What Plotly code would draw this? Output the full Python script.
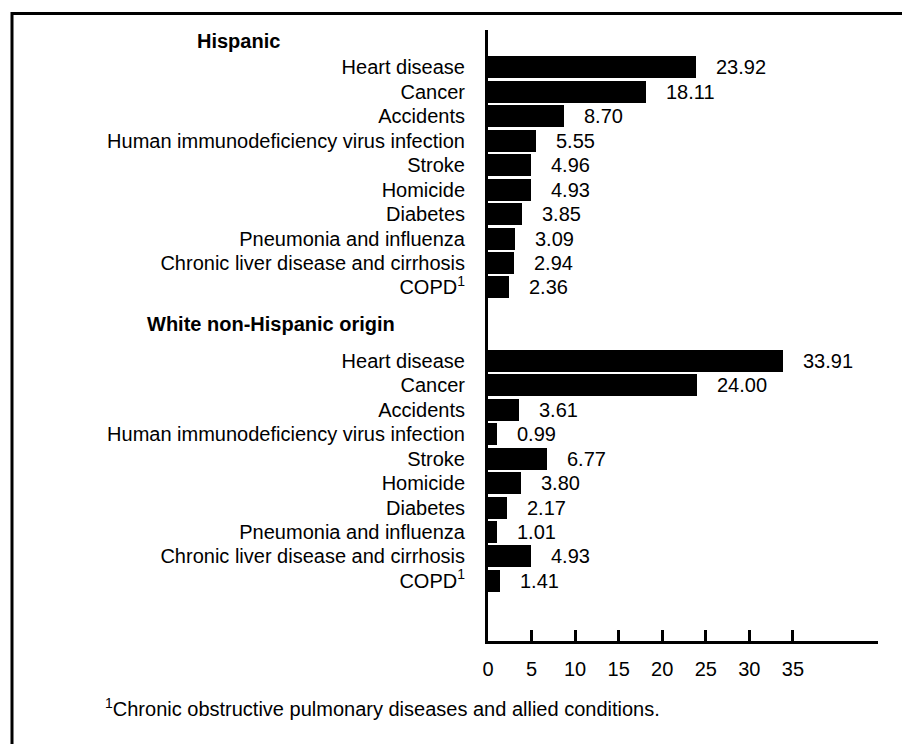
import plotly.graph_objects as go

causes = ["Heart disease", "Cancer", "Accidents",
          "Human immunodeficiency virus infection", "Stroke", "Homicide",
          "Diabetes", "Pneumonia and influenza",
          "Chronic liver disease and cirrhosis", "COPD<sup>1</sup>"]
hispanic = [23.92, 18.11, 8.70, 5.55, 4.96, 4.93, 3.85, 3.09, 2.94, 2.36]
white = [33.91, 24.00, 3.61, 0.99, 6.77, 3.80, 2.17, 1.01, 4.93, 1.41]
groups = ["Hispanic", "White non-Hispanic origin"]
x_ticks = [0, 5, 10, 15, 20, 25, 30, 35]
footnote = "<sup>1</sup>Chronic obstructive pulmonary diseases and allied conditions."

FONT = "Liberation Sans, Arial, Helvetica, sans-serif"
FS = 20
GROUP_GAP = 12
BODY = 8  # default page margin of the html body

pos_h = list(range(len(causes)))
pos_w = [i + GROUP_GAP for i in range(len(causes))]
values = hispanic + white
positions = pos_h + pos_w

fig = go.Figure()
fig.add_trace(go.Bar(
    x=values, y=positions, orientation="h",
    marker=dict(color="black", line=dict(width=0)),
    width=0.9, hoverinfo="x",
))

annotations = []
for v, p in zip(values, positions):
    annotations.append(dict(x=v, y=p, xref="x", yref="y", text=f"{v:.2f}",
                            showarrow=False, xanchor="left", yanchor="middle",
                            xshift=18, font=dict(size=FS, color="black", family=FONT)))

# group headers
annotations.append(dict(x=0, y=-1.1, xref="paper", yref="y", text="<b>" + groups[0] + "</b>",
                        showarrow=False, xanchor="left", yanchor="middle", xshift=-293,
                        font=dict(size=FS, color="black", family=FONT)))
annotations.append(dict(x=0, y=10.5, xref="paper", yref="y", text="<b>" + groups[1] + "</b>",
                        showarrow=False, xanchor="left", yanchor="middle", xshift=-343,
                        font=dict(size=FS, color="black", family=FONT)))
annotations.append(dict(x=0, y=0, xref="paper", yref="paper", text=footnote,
                        showarrow=False, xanchor="left", yanchor="middle", xshift=-385, yshift=-66,
                        font=dict(size=FS, color="black", family=FONT)))

W, H = 910 - BODY, 744 - BODY
L, T, R, B = 488 - BODY, 30 - BODY, 32, 103
PW, PH = W - L - R, H - T - B

fig.update_layout(
    width=W, height=H,
    margin=dict(l=L, r=R, t=T, b=B, pad=0),
    paper_bgcolor="white", plot_bgcolor="white",
    showlegend=False, bargap=0,
    font=dict(family=FONT, size=FS, color="black"),
    annotations=annotations,
    shapes=[dict(type="rect", xref="paper", yref="paper",
                 x0=(12 - BODY - L) / PW, x1=1.3,
                 y0=-0.3, y1=(T + PH - (13.5 - BODY)) / PH,
                 line=dict(color="black", width=3), layer="above")],
    xaxis=dict(range=[0, 44.77], showgrid=False, zeroline=False,
               showline=True, linecolor="black", linewidth=3,
               ticks="inside", ticklen=11, tickwidth=2.5, tickcolor="black",
               tickvals=x_ticks, ticktext=[str(t) for t in x_ticks],
               ticklabelstandoff=8,
               tickfont=dict(size=FS, color="black", family=FONT), fixedrange=True),
    yaxis=dict(range=[23.46, -1.53], showgrid=False, zeroline=False,
               showline=True, linecolor="black", linewidth=3,
               ticks="", tickvals=positions, ticktext=causes + causes,
               ticklabelstandoff=16,
               tickfont=dict(size=FS, color="black", family=FONT), fixedrange=True),
)

fig.write_html("out.html")
